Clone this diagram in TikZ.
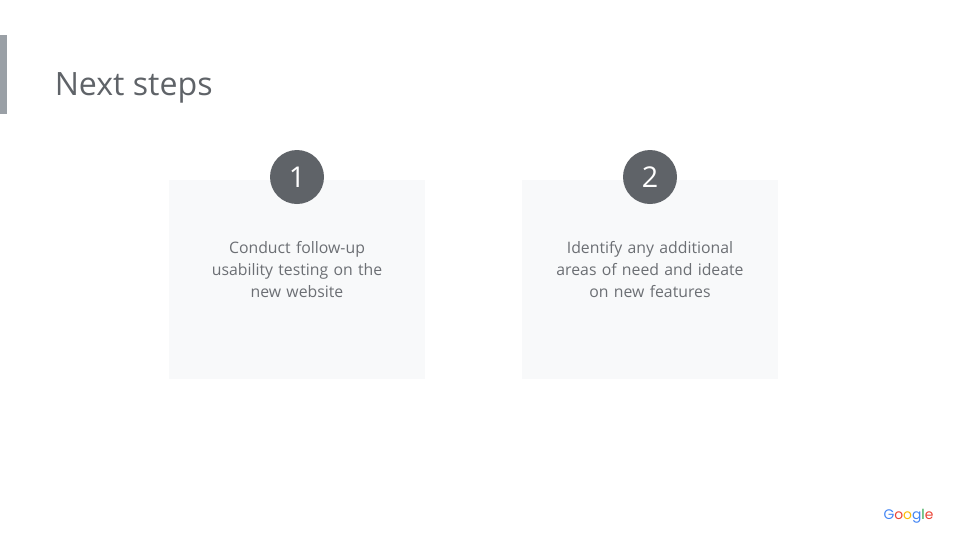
\documentclass[tikz,border=0pt]{standalone}
\usepackage{fontspec}
\setmainfont{Open Sans}
\newfontfamily\logofont{Poppins}
\newfontfamily\cardfont[WordSpace=0.7]{Open Sans}
\usepackage{tikz}
\usetikzlibrary{positioning, calc}
\definecolor{inkgrey}{HTML}{5F6368}
\definecolor{bargrey}{HTML}{9AA0A6}
\definecolor{cardgrey}{HTML}{F8F9FA}
\definecolor{gblue}{HTML}{4285F4}
\definecolor{gred}{HTML}{EA4335}
\definecolor{gyellow}{HTML}{FBBC05}
\definecolor{ggreen}{HTML}{34A853}
\tikzset{
  card/.style={fill=cardgrey, minimum width=192pt, minimum height=149.25pt, inner sep=0pt, outer sep=0pt},
  badge/.style={circle, fill=inkgrey, text=white, minimum size=40.5pt, inner sep=0pt, font=\fontsize{21.5}{25}\selectfont},
  cardtext/.style={text=inkgrey!92!white, align=center, text width=170pt, inner sep=0pt, font=\cardfont\fontsize{11.85}{16.5}\selectfont}
}
\begin{document}
\begin{tikzpicture}[x=0.75pt, y=-0.75pt]

      \useasboundingbox (0,0) rectangle (960,540);

      % TITLE

      \node[fill=bargrey, minimum width=5.25pt, minimum height=59.25pt, inner sep=0pt, outer sep=0pt, anchor=north west] (titleBar) at (0,35) {};
      \node[text=inkgrey, inner sep=0pt, anchor=west, font=\fontsize{24.1}{29}\selectfont] (titleText) at (54.5,88) {Next steps};

      % CARDS

      \node[card, anchor=north west] (cardOne) at (169,180) {};
      \node[card, right=72.75pt of cardOne] (cardTwo) {};

      % BADGES

      \node[badge] (badgeOne) at ($(cardOne.north)+(0,-3)$) {1};
      \node[badge] (badgeTwo) at ($(cardTwo.north)+(0,-3)$) {2};

      % LABELS

      \node[cardtext, anchor=north] (textOne) at ($(cardOne.north)+(0,61)$) {Conduct follow-up\\usability testing on the\\new website};
      \node[cardtext, anchor=north] (textTwo) at ($(cardTwo.north)+(0,61)$) {Identify any additional\\areas of need and ideate\\on new features};

      % LOGO

      \node[inner sep=0pt, font=\logofont\fontsize{10.4}{14}\selectfont] (logo) at (908.5,516) {\textcolor{gblue}{G}\textcolor{gred}{o}\textcolor{gyellow}{o}\textcolor{gblue}{g}\textcolor{ggreen}{l}\textcolor{gred}{e}};

    \end{tikzpicture}
\end{document}
